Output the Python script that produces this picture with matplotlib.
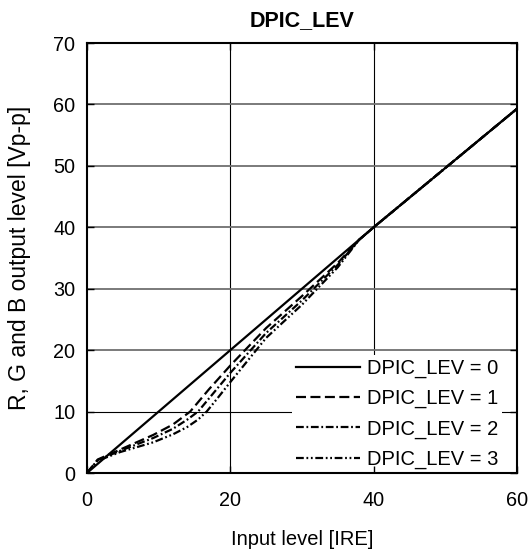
import matplotlib
matplotlib.use("Agg")
import matplotlib.pyplot as plt

plt.rcParams['font.family'] = ['Liberation Sans', 'DejaVu Sans']

labels = ["DPIC_LEV = 0", "DPIC_LEV = 1", "DPIC_LEV = 2", "DPIC_LEV = 3"]

x0 = [0, 40, 60]
y0 = [0, 40, 59.3]

x1 = [0, 1.5, 4.6, 9.25, 12, 14.4, 17, 20, 25, 30, 35, 38, 40, 60]
y1 = [0, 2.2, 3.8, 6.2, 7.9, 10.0, 13.6, 17.5, 23.6, 28.8, 34.2, 38, 40, 59.3]

x2 = [0, 1.5, 4.6, 9.25, 12, 14, 15.5, 17.5, 20, 25, 30, 35, 38, 40, 60]
y2 = [0, 2.1, 3.6, 5.7, 7.2, 8.7, 10.0, 12.8, 16.3, 22.8, 28.1, 33.9, 38, 40, 59.3]

x3 = [0, 1.5, 4.6, 9.25, 12, 14, 15.5, 16.7, 18.3, 20, 25, 30, 35, 38, 40, 60]
y3 = [0, 2.0, 3.4, 5.0, 6.3, 7.5, 8.7, 10.0, 12.3, 14.8, 22.0, 27.4, 33.5, 38, 40, 59.3]

xticks = [0, 20, 40, 60]
yticks = [0, 10, 20, 30, 40, 50, 60, 70]

fig = plt.figure(figsize=(5.31, 5.52), dpi=100)
ax = fig.add_axes([0.1638, 0.1431, 0.8098, 0.7790])

for xv in xticks[1:-1]:
    ax.axvline(xv, color='black', lw=0.8, zorder=0.5)
for yv in yticks[1:-1]:
    if yv == 10:
        ax.axhline(yv, color='black', lw=0.8, zorder=0.5)
    else:
        ax.axhline(yv, color='#707070', lw=1.3, zorder=0.5)

lw = 1.6
ax.plot(x0, y0, color='black', lw=lw, label=labels[0], zorder=3)
ax.plot(x1, y1, color='black', lw=lw, dashes=(4.5, 2), label=labels[1], zorder=3)
ax.plot(x2, y2, color='black', lw=lw, dashes=(3.5, 1.2, 0.8, 1.2), label=labels[2], zorder=3)
ax.plot(x3, y3, color='black', lw=lw, dashes=(3.5, 1.2, 0.8, 1.2, 0.8, 1.2), label=labels[3], zorder=3)

ax.set_xlim(0, 60)
ax.set_ylim(0, 70)
ax.set_xticks(xticks)
ax.set_yticks(yticks)
ax.tick_params(direction='in', length=5, width=1, top=True, right=True,
               labelsize=14.3, colors='black')
ax.tick_params(axis='x', pad=13)
ax.tick_params(axis='y', pad=8.5)
for s in ax.spines.values():
    s.set_linewidth(1.5)

leg = ax.legend(loc='lower right', bbox_to_anchor=(0.965, 0.0), frameon=True,
                fontsize=14.5, handlelength=3.2, handletextpad=0.3,
                labelspacing=0.55, borderaxespad=0.0, borderpad=0.2)
leg.get_frame().set_edgecolor('none')
leg.get_frame().set_facecolor('white')
leg.get_frame().set_alpha(1)
leg.get_frame().set_boxstyle('square', pad=0)
leg.set_zorder(1)

ax.set_title("DPIC_LEV", fontsize=15.5, fontweight='bold', pad=12)
ax.set_xlabel("Input level [IRE]", fontsize=14.5, labelpad=14)
ax.set_ylabel("R, G and B output level [Vp-p]", fontsize=16.5, labelpad=16)

fig.savefig("out.png", dpi=100)
